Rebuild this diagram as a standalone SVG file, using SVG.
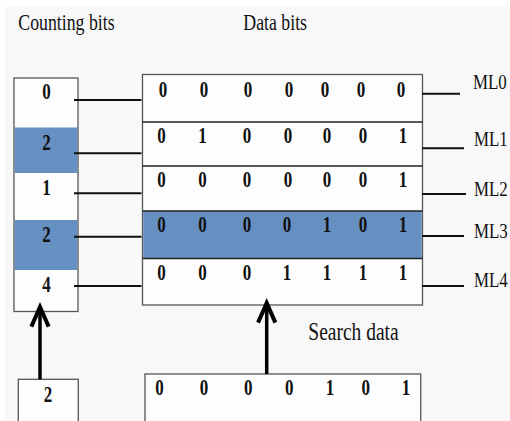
<svg xmlns="http://www.w3.org/2000/svg" width="510" height="421" viewBox="0 0 510 421">
<style>
text{font-family:"Liberation Serif","Times New Roman",serif;fill:#111}
.h{font-size:17.8px}
.ml{font-size:16.9px}
.sd{font-size:19.5px}
.d{font-size:17px;font-weight:bold;text-anchor:middle}
.box{fill:#fdfdfd;stroke:#555;stroke-width:1.3}
.blue{fill:#6790c2}
.sep{stroke:#222;stroke-width:1.5}
.conn{stroke:#111;stroke-width:2;fill:none}
.arrow{stroke:#000;stroke-width:3.5;fill:none}
</style>
<defs>
<marker id="arr" markerUnits="userSpaceOnUse" markerWidth="30" markerHeight="30" viewBox="-22 -12 26 24" refX="0" refY="0" orient="auto">
<path d="M-17,-7.5 L0,0 L-17,7.5" fill="none" stroke="#000" stroke-width="3.5"/>
</marker>
</defs>
<rect width="510" height="421" fill="#ffffff"/>
<rect x="5" y="7" width="505" height="414" fill="#f8f8f8"/>

<g id="labels" transform="scale(1,1.3)">
<text class="h" x="18.3" y="23.1">Counting bits</text>
<text class="h" x="243.3" y="23.1">Data bits</text>
<text class="sd" x="308.3" y="261.5">Search data</text>
</g>

<g id="counting-bits">
<rect class="box" x="14" y="78" width="64" height="233.5"/>
<rect class="blue" x="14.7" y="127.5" width="62.6" height="45.5"/>
<rect class="blue" x="14.7" y="220" width="62.6" height="50"/>
<g transform="scale(1,1.3)">
<text class="d" x="46.5" y="76.4">0</text>
<text class="d" x="46.5" y="115.4">2</text>
<text class="d" x="46.5" y="150">1</text>
<text class="d" x="46.5" y="185.9">2</text>
<text class="d" x="46.5" y="224.4">4</text>
</g>
</g>

<g id="data-bits">
<rect class="box" x="142.5" y="74.5" width="280" height="230.5"/>
<rect class="blue" x="143.2" y="211" width="278.6" height="47.5"/>
<line class="sep" x1="142.5" y1="122" x2="422.5" y2="122"/>
<line class="sep" x1="142.5" y1="166" x2="422.5" y2="166"/>
<line class="sep" x1="142.5" y1="211" x2="422.5" y2="211"/>
<line class="sep" x1="142.5" y1="258.5" x2="422.5" y2="258.5"/>
<g transform="scale(1,1.3)">
<text class="d" y="74.4"><tspan x="163">0</tspan><tspan x="204">0</tspan><tspan x="248">0</tspan><tspan x="289">0</tspan><tspan x="325">0</tspan><tspan x="361">0</tspan><tspan x="401">0</tspan></text>
<text class="d" y="109.8"><tspan x="161.5">0</tspan><tspan x="202.5">1</tspan><tspan x="247">0</tspan><tspan x="288">0</tspan><tspan x="327">0</tspan><tspan x="363">0</tspan><tspan x="403">1</tspan></text>
<text class="d" y="144.1"><tspan x="161.5">0</tspan><tspan x="202.5">0</tspan><tspan x="247">0</tspan><tspan x="288">0</tspan><tspan x="327">0</tspan><tspan x="363">0</tspan><tspan x="403">1</tspan></text>
<text class="d" y="178.2"><tspan x="161.5">0</tspan><tspan x="202.5">0</tspan><tspan x="247">0</tspan><tspan x="287">0</tspan><tspan x="327">1</tspan><tspan x="363">0</tspan><tspan x="403">1</tspan></text>
<text class="d" y="215.4"><tspan x="161.5">0</tspan><tspan x="202.5">0</tspan><tspan x="247">0</tspan><tspan x="287">1</tspan><tspan x="327">1</tspan><tspan x="363">1</tspan><tspan x="403">1</tspan></text>
</g>
</g>

<g id="match-lines" transform="scale(1,1.3)">
<text class="ml" x="473" y="68.7">ML0</text>
<text class="ml" x="474" y="112.3">ML1</text>
<text class="ml" x="474" y="150.8">ML2</text>
<text class="ml" x="474" y="183.3">ML3</text>
<text class="ml" x="474" y="220.5">ML4</text>
</g>

<g id="count-input">
<rect class="box" x="18.3" y="379.3" width="60" height="50"/>
<g transform="scale(1,1.3)">
<text class="d" x="48" y="309">2</text>
</g>
</g>

<g id="search-data">
<rect class="box" x="145" y="374" width="275.7" height="60"/>
<g transform="scale(1,1.3)">
<text class="d" y="303.8"><tspan x="159.5">0</tspan><tspan x="204">0</tspan><tspan x="248.3">0</tspan><tspan x="289.3">0</tspan><tspan x="330">1</tspan><tspan x="365.7">0</tspan><tspan x="406">1</tspan></text>
</g>
</g>

<g id="connectors">
<line class="conn" x1="74" y1="100" x2="141.5" y2="100"/>
<line class="conn" x1="74" y1="153.3" x2="141.5" y2="153.3"/>
<line class="conn" x1="74" y1="193.3" x2="141.5" y2="193.3"/>
<line class="conn" x1="74" y1="236.7" x2="141.5" y2="236.7"/>
<line class="conn" x1="74" y1="286" x2="141.5" y2="286"/>
<line class="conn" x1="422" y1="93.7" x2="460" y2="93.7"/>
<line class="conn" x1="422" y1="148.3" x2="464" y2="148.3"/>
<line class="conn" x1="422" y1="194" x2="466" y2="194"/>
<line class="conn" x1="422" y1="236" x2="464" y2="236"/>
<line class="conn" x1="422" y1="286" x2="464" y2="286"/>
<line class="arrow" x1="40" y1="379.3" x2="40" y2="307" marker-end="url(#arr)"/>
<line class="arrow" x1="266.7" y1="374" x2="266.7" y2="303" marker-end="url(#arr)"/>
</g>
</svg>
